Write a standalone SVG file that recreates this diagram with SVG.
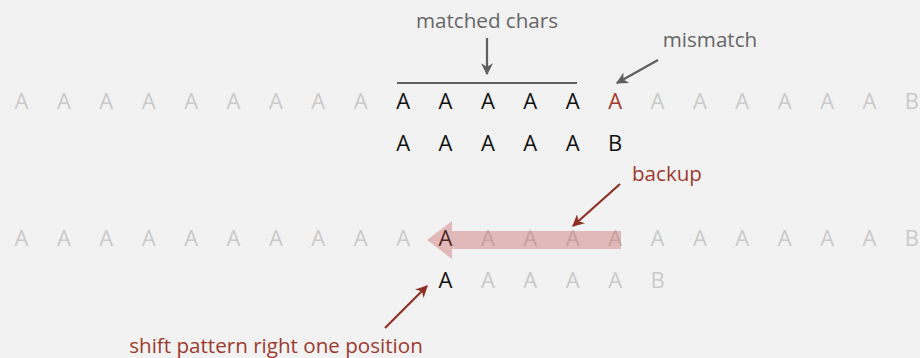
<svg xmlns="http://www.w3.org/2000/svg" width="920" height="358" viewBox="0 0 920 358">
  <defs>
    <marker id="headGray" viewBox="0 0 10 10" refX="9" refY="5" markerWidth="5.5" markerHeight="5.5" orient="auto" markerUnits="strokeWidth">
      <path d="M0,0 L10,5 L0,10 L3,5 Z" fill="#5f5f5f"/>
    </marker>
    <marker id="headRed" viewBox="0 0 10 10" refX="9" refY="5" markerWidth="5.5" markerHeight="5.5" orient="auto" markerUnits="strokeWidth">
      <path d="M0,0 L10,5 L0,10 L3,5 Z" fill="#8e2f25"/>
    </marker>
  </defs>
  <style>
    text { font-family: "Open Sans", "Liberation Sans", sans-serif; }
    .ch { font-size: 22px; text-anchor: middle; }
    .lt { fill: #cacaca; }
    .dk { fill: #111111; }
    .rd { fill: #a33a2c; }
    .lbl { font-size: 20.6px; text-anchor: middle; }
    .gl { fill: #666666; }
    .rl { fill: #9a3a2e; }
    .ga { stroke: #5f5f5f; stroke-width: 2.2; fill: none; }
    .ra { stroke: #8e2f25; stroke-width: 2.2; fill: none; }
  </style>
  <rect width="920" height="358" fill="#f2f2f2"/>

  <!-- text row 1 -->
  <g id="text1">
    <text class="ch lt" y="109"><tspan x="21.5">A</tspan><tspan x="63.9">A</tspan><tspan x="106.3">A</tspan><tspan x="148.7">A</tspan><tspan x="191.1">A</tspan><tspan x="233.5">A</tspan><tspan x="275.9">A</tspan><tspan x="318.3">A</tspan><tspan x="360.7">A</tspan></text>
    <text class="ch dk" y="109"><tspan x="403.1">A</tspan><tspan x="445.5">A</tspan><tspan x="487.9">A</tspan><tspan x="530.3">A</tspan><tspan x="572.7">A</tspan></text>
    <text class="ch rd" x="615.1" y="109">A</text>
    <text class="ch lt" y="109"><tspan x="657.5">A</tspan><tspan x="699.9">A</tspan><tspan x="742.3">A</tspan><tspan x="784.7">A</tspan><tspan x="827.1">A</tspan><tspan x="869.5">A</tspan><tspan x="911.9">B</tspan></text>
  </g>

  <!-- pattern row 1 -->
  <g id="pattern1">
    <text class="ch dk" y="151"><tspan x="403.1">A</tspan><tspan x="445.5">A</tspan><tspan x="487.9">A</tspan><tspan x="530.3">A</tspan><tspan x="572.7">A</tspan><tspan x="615.1">B</tspan></text>
  </g>

  <!-- text row 2 -->
  <g id="text2">
    <text class="ch lt" y="246"><tspan x="21.5">A</tspan><tspan x="63.9">A</tspan><tspan x="106.3">A</tspan><tspan x="148.7">A</tspan><tspan x="191.1">A</tspan><tspan x="233.5">A</tspan><tspan x="275.9">A</tspan><tspan x="318.3">A</tspan><tspan x="360.7">A</tspan><tspan x="403.1">A</tspan></text>
    <text class="ch dk" x="445.5" y="246">A</text>
    <text class="ch lt" y="246"><tspan x="487.9">A</tspan><tspan x="530.3">A</tspan><tspan x="572.7">A</tspan><tspan x="615.1">A</tspan><tspan x="657.5">A</tspan><tspan x="699.9">A</tspan><tspan x="742.3">A</tspan><tspan x="784.7">A</tspan><tspan x="827.1">A</tspan><tspan x="869.5">A</tspan><tspan x="911.9">B</tspan></text>
  </g>

  <!-- pattern row 2 -->
  <g id="pattern2">
    <text class="ch dk" x="445.5" y="288">A</text>
    <text class="ch lt" y="288"><tspan x="487.9">A</tspan><tspan x="530.3">A</tspan><tspan x="572.7">A</tspan><tspan x="615.1">A</tspan><tspan x="657.5">B</tspan></text>
  </g>

  <!-- wide translucent backup arrow -->
  <g id="backupArrow">
    <path d="M621,231 L452,231 L452,221 L427,240 L452,259 L452,249 L621,249 Z" fill="#c0504d" fill-opacity="0.35"/>
  </g>

  <!-- labels -->
  <g id="matchedLabel">
    <text class="lbl gl" x="487" y="28">matched chars</text>
  </g>
  <g id="mismatchLabel">
    <text class="lbl gl" x="710" y="47">mismatch</text>
  </g>
  <g id="backupLabel">
    <text class="lbl rl" x="667" y="181">backup</text>
  </g>
  <g id="shiftLabel">
    <text class="lbl rl" x="276" y="353">shift pattern right one position</text>
  </g>

  <!-- connectors -->
  <g id="connectors">
    <line x1="397" y1="83" x2="577" y2="83" class="ga"/>
    <line x1="487" y1="38" x2="487" y2="74" class="ga" marker-end="url(#headGray)"/>
    <line x1="658" y1="60" x2="617" y2="83" class="ga" marker-end="url(#headGray)"/>
    <line x1="620" y1="184" x2="573" y2="226" class="ra" marker-end="url(#headRed)"/>
    <line x1="385" y1="328" x2="427" y2="286" class="ra" marker-end="url(#headRed)"/>
  </g>
</svg>
